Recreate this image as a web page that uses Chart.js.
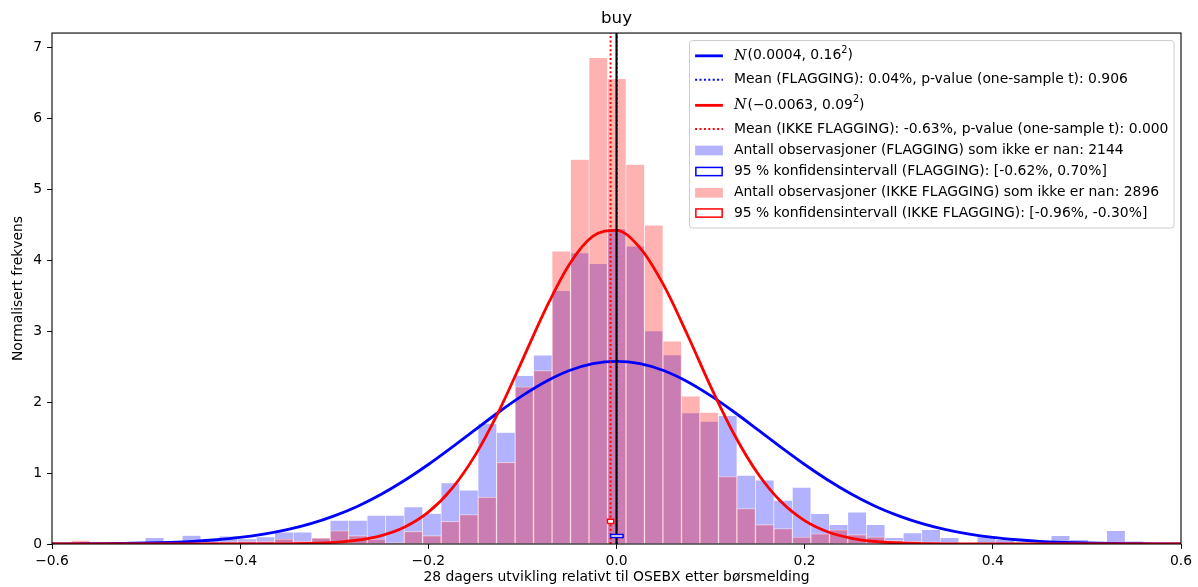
<!DOCTYPE html>
<html>
<head>
<meta charset="utf-8">
<script src="https://cdn.jsdelivr.net/npm/chart.js@4.4.1/dist/chart.umd.min.js"></script>
<style>
    html, body { margin: 0; padding: 0; background: #fff; }
</style>
</head>
<body>
<canvas id="chart" width="1198" height="587"></canvas>
<script>
// ---- data ----

// Histogram bins (same bins for both groups)
const binStart = -0.6187;
const binWidth = 0.01965;

// density per bin, FLAGGING (blue)
const flaggingDensity = [
    0, 0, 0, 0, 0, 0.02, 0.09, 0.03, 0.12, 0.05,
    0.11, 0.07, 0.10, 0.165, 0.165, 0.085, 0.333, 0.333, 0.403, 0.403,
    0.52, 0.43, 0.86, 0.756, 1.70, 1.57, 2.37, 2.66, 3.57, 4.10,
    3.95, 4.44, 4.195, 3.00, 2.665, 1.846, 1.728, 1.808, 0.967, 0.897,
    0.615, 0.798, 0.427, 0.272, 0.446, 0.272, 0.09, 0.155, 0.20, 0.09,
    0, 0.10, 0.06, 0.02, 0.02, 0.117, 0.06, 0.03, 0.188, 0.04,
    0, 0
];

// density per bin, IKKE FLAGGING (red)
const ikkeDensity = [
    0, 0.02, 0.05, 0.02, 0.02, 0.02, 0.02, 0.02, 0.02, 0.03,
    0.03, 0.04, 0.04, 0.07, 0.04, 0.085, 0.187, 0.117, 0.07, 0.02,
    0.178, 0.117, 0.319, 0.413, 0.66, 1.15, 2.215, 2.443, 4.125, 5.417,
    6.851, 6.555, 5.347, 4.491, 2.856, 2.081, 1.855, 0.95, 0.498, 0.272,
    0.216, 0.099, 0.145, 0.20, 0.131, 0.10, 0.05, 0.04, 0.03, 0.02,
    0.02, 0.02, 0.01, 0.02, 0.01, 0.01, 0.01, 0.01, 0.01, 0.01,
    0.01, 0.01
];

// fitted normal curves
const curveX = [
    -0.6, -0.575, -0.55, -0.525, -0.5, -0.475, -0.45, -0.425, -0.4, -0.375,
    -0.35, -0.325, -0.3, -0.275, -0.25, -0.225, -0.2, -0.175, -0.15, -0.125,
    -0.1, -0.075, -0.05, -0.025, 0, 0.025, 0.05, 0.075, 0.1, 0.125,
    0.15, 0.175, 0.2, 0.225, 0.25, 0.275, 0.3, 0.325, 0.35, 0.375,
    0.4, 0.425, 0.45, 0.475, 0.5, 0.525, 0.55, 0.575, 0.6
];
const flaggingCurve = [
    0.001, 0.003, 0.005, 0.008, 0.014, 0.024, 0.038, 0.060, 0.092, 0.138,
    0.201, 0.286, 0.396, 0.533, 0.701, 0.898, 1.120, 1.361, 1.612, 1.860,
    2.090, 2.290, 2.444, 2.541, 2.574, 2.541, 2.444, 2.290, 2.090, 1.860,
    1.612, 1.361, 1.120, 0.898, 0.701, 0.533, 0.396, 0.286, 0.201, 0.138,
    0.092, 0.060, 0.038, 0.024, 0.014, 0.008, 0.005, 0.003, 0.001
];
const ikkeCurve = [
    0, 0, 0, 0, 0, 0, 0, 0, 0, 0.001,
    0.003, 0.009, 0.023, 0.054, 0.118, 0.239, 0.448, 0.780, 1.256, 1.874,
    2.592, 3.321, 3.943, 4.337, 4.419, 4.173, 3.651, 2.959, 2.222, 1.546,
    0.997, 0.595, 0.330, 0.169, 0.080, 0.035, 0.014, 0.005, 0.002, 0.001,
    0, 0, 0, 0, 0, 0, 0, 0, 0
];

// means and 95 % intervals
const meanFlagging = 0.0004;
const meanIkke = -0.0063;
const ciFlagging = [-0.0062, 0.0070];
const ciIkke = [-0.0096, -0.0030];
const ciFlaggingY = [0.09, 0.135];
const ciIkkeY = [0.29, 0.35];

// axes
const xRange = [-0.6, 0.6];
const xStep = 0.2;
const yMax = 7.2;
const yStep = 1;

const titleText = 'buy';
const xTitle = '28 dagers utvikling relativt til OSEBX etter børsmelding';
const yTitle = 'Normalisert frekvens';

// legend labels (math ones split in parts: N, body, superscript, tail)
const legendLabels = [
    ['N', '(0.0004, 0.16', '2', ')'],
    'Mean (FLAGGING): 0.04%, p-value (one-sample t): 0.906',
    ['N', '(\u22120.0063, 0.09', '2', ')'],
    'Mean (IKKE FLAGGING): -0.63%, p-value (one-sample t): 0.000',
    'Antall observasjoner (FLAGGING) som ikke er nan: 2144',
    '95 % konfidensintervall (FLAGGING): [-0.62%, 0.70%]',
    'Antall observasjoner (IKKE FLAGGING) som ikke er nan: 2896',
    '95 % konfidensintervall (IKKE FLAGGING): [-0.96%, -0.30%]'
];

// ---- styling ----
const FONT = '"DejaVu Sans", sans-serif';
const FS = 13.9;
const BLUE = 'rgb(0,0,255)';
const RED = 'rgb(255,0,0)';
const BLUE_FILL = 'rgba(0,0,255,0.3)';
const RED_FILL = 'rgba(255,0,0,0.3)';
const DOTS = [2, 2.4];

Chart.defaults.font.family = FONT;
Chart.defaults.font.size = FS;
Chart.defaults.color = '#000';

const centers = flaggingDensity.map((_, i) => binStart + (i + 0.5) * binWidth);
const toPoints = (xs, ys) => xs.map((x, i) => ({ x: x, y: ys[i] }));
const vline = x => [{ x: x, y: 0 }, { x: x, y: yMax }];
const rectPath = (xr, yr) => [
    { x: xr[0], y: yr[0] }, { x: xr[1], y: yr[0] },
    { x: xr[1], y: yr[1] }, { x: xr[0], y: yr[1] }, { x: xr[0], y: yr[0] }
];

const barCommon = {
    type: 'bar',
    grouped: false,
    barPercentage: 1,
    categoryPercentage: 1,
    borderColor: 'rgba(255,255,255,0.55)',
    borderWidth: 0.6,
    clip: 0
};
const lineCommon = {
    type: 'line',
    pointRadius: 0,
    fill: false,
    tension: 0,
    clip: 0
};

const fmtX = v => {
    const r = Math.round(v * 10) / 10;
    return (r === 0 ? '0.0' : r.toFixed(1)).replace('-', '\u2212');
};

// frame around the plot area
const framePlugin = {
    id: 'frame',
    afterDatasetsDraw(chart) {
        const { ctx, chartArea: a } = chart;
        ctx.save();
        ctx.strokeStyle = '#000';
        ctx.lineWidth = 1.1;
        ctx.strokeRect(a.left, a.top, a.right - a.left, a.bottom - a.top);
        ctx.restore();
    }
};

// matplotlib-like legend box in the upper right corner
const legendPlugin = {
    id: 'boxLegend',
    afterDraw(chart) {
        const { ctx, chartArea: a } = chart;
        const styles = [
            { kind: 'line', color: BLUE, dash: [] },
            { kind: 'line', color: BLUE, dash: DOTS },
            { kind: 'line', color: RED, dash: [] },
            { kind: 'line', color: RED, dash: DOTS },
            { kind: 'patch', color: BLUE_FILL },
            { kind: 'box', color: BLUE },
            { kind: 'patch', color: RED_FILL },
            { kind: 'box', color: RED }
        ];
        const rowY = [15.3, 39.3, 64.8, 88.5, 110, 131, 152.3, 172.5];
        const boxH = 187.5;
        const base = FS + 'px ' + FONT;
        const cal = 'italic ' + (FS + 0.5) + 'px "DejaVu Serif", serif';
        const sup = (FS * 0.7).toFixed(1) + 'px ' + FONT;

        const partFonts = [cal, base, sup, base];
        const measure = lbl => {
            if (typeof lbl === 'string') { ctx.font = base; return ctx.measureText(lbl).width; }
            return lbl.reduce((w, t, i) => { ctx.font = partFonts[i]; return w + ctx.measureText(t).width + (i === 0 ? 1 : 0); }, 0);
        };
        const textW = Math.max(...legendLabels.map(measure));
        const pad = 5.6, handleLen = 27.8, gap = 11;
        const boxW = pad + handleLen + gap + textW + pad;
        const right = a.right - 7;
        const left = right - boxW;
        const top = a.top + 7.5;

        ctx.save();
        // frame
        ctx.beginPath();
        ctx.roundRect(left, top, boxW, boxH, 3);
        ctx.fillStyle = 'rgba(255,255,255,0.8)';
        ctx.fill();
        ctx.strokeStyle = '#cccccc';
        ctx.lineWidth = 1;
        ctx.stroke();

        legendLabels.forEach((lbl, i) => {
            const s = styles[i];
            const cy = top + rowY[i];
            const hx = left + pad;
            if (s.kind === 'line') {
                ctx.beginPath();
                ctx.setLineDash(s.dash);
                ctx.strokeStyle = s.color;
                ctx.lineWidth = s.dash.length ? 2 : 2.8;
                ctx.moveTo(hx, cy);
                ctx.lineTo(hx + handleLen, cy);
                ctx.stroke();
                ctx.setLineDash([]);
            } else if (s.kind === 'patch') {
                ctx.fillStyle = s.color;
                ctx.fillRect(hx, cy - 4.9, handleLen, 9.7);
            } else {
                ctx.fillStyle = '#fff';
                ctx.fillRect(hx, cy - 4.9, handleLen, 9.7);
                ctx.strokeStyle = s.color;
                ctx.lineWidth = 1.5;
                ctx.strokeRect(hx + 0.75, cy - 4.1, handleLen - 1.5, 8.2);
            }

            let tx = hx + handleLen + gap;
            ctx.fillStyle = '#000';
            ctx.textBaseline = 'middle';
            ctx.textAlign = 'left';
            if (typeof lbl === 'string') {
                ctx.font = base;
                ctx.fillText(lbl, tx, cy);
            } else {
                lbl.forEach((t, j) => {
                    ctx.font = partFonts[j];
                    const dy = j === 2 ? -5.5 : 0;
                    ctx.fillText(t, tx, cy + dy);
                    tx += ctx.measureText(t).width + (j === 0 ? 1 : 0);
                });
            }
        });
        ctx.restore();
    }
};

new Chart(document.getElementById('chart'), {
    type: 'bar',
    data: {
        datasets: [
            { ...barCommon, label: 'FLAGGING', data: toPoints(centers, flaggingDensity), backgroundColor: BLUE_FILL, order: 7 },
            { ...barCommon, label: 'IKKE FLAGGING', data: toPoints(centers, ikkeDensity), backgroundColor: RED_FILL, order: 6 },
            { ...lineCommon, label: 'N FLAGGING', data: toPoints(curveX, flaggingCurve), borderColor: BLUE, borderWidth: 2.8, cubicInterpolationMode: 'monotone', order: 5 },
            { ...lineCommon, label: 'N IKKE', data: toPoints(curveX, ikkeCurve), borderColor: RED, borderWidth: 2.8, cubicInterpolationMode: 'monotone', order: 4 },
            { ...lineCommon, label: 'Mean FLAGGING', data: vline(meanFlagging), borderColor: BLUE, borderWidth: 1.4, borderDash: DOTS, order: 3 },
            { ...lineCommon, label: 'Mean IKKE', data: vline(meanIkke), borderColor: RED, borderWidth: 2, borderDash: DOTS, order: 2 },
            { ...lineCommon, label: 'zero', data: vline(0), borderColor: '#000', borderWidth: 2.1, order: 1 },
            { ...lineCommon, label: 'CI FLAGGING', data: rectPath(ciFlagging, ciFlaggingY), borderColor: BLUE, borderWidth: 1.5, fill: 'shape', backgroundColor: '#fff', order: 0 },
            { ...lineCommon, label: 'CI IKKE', data: rectPath(ciIkke, ciIkkeY), borderColor: RED, borderWidth: 1.5, fill: 'shape', backgroundColor: '#fff', order: 0 }
        ]
    },
    options: {
        responsive: false,
        animation: false,
        events: [],
        layout: { padding: { top: 0, right: 17, bottom: 0, left: 0 } },
        plugins: {
            legend: { display: false },
            tooltip: { enabled: false },
            title: {
                display: true,
                text: titleText,
                fullSize: false,
                color: '#000',
                font: { family: FONT, size: 16.7, weight: 'normal', lineHeight: 1.2 },
                padding: { top: 9, bottom: 4 }
            }
        },
        scales: {
            x: {
                type: 'linear',
                min: xRange[0],
                max: xRange[1],
                offset: false,
                ticks: { stepSize: xStep, callback: fmtX, padding: 4, maxRotation: 0, autoSkip: false, color: '#000', font: { size: FS } },
                grid: { drawOnChartArea: false, drawTicks: true, tickLength: 4.9, color: '#000', offset: false },
                border: { display: false },
                title: { display: true, text: xTitle, color: '#000', font: { size: FS }, padding: { top: 0, bottom: 1 } },
                afterFit: s => { s.height = 43; }
            },
            y: {
                type: 'linear',
                min: 0,
                max: yMax,
                ticks: { stepSize: yStep, includeBounds: false, padding: 5, color: '#000', font: { size: FS } },
                grid: { drawOnChartArea: false, drawTicks: true, tickLength: 4.9, color: '#000' },
                border: { display: false },
                title: { display: true, text: yTitle, color: '#000', font: { size: FS }, padding: { top: 9.7, bottom: 0 } },
                afterFit: s => { s.width = 52; }
            }
        }
    },
    plugins: [framePlugin, legendPlugin]
});
</script>
</body>
</html>
